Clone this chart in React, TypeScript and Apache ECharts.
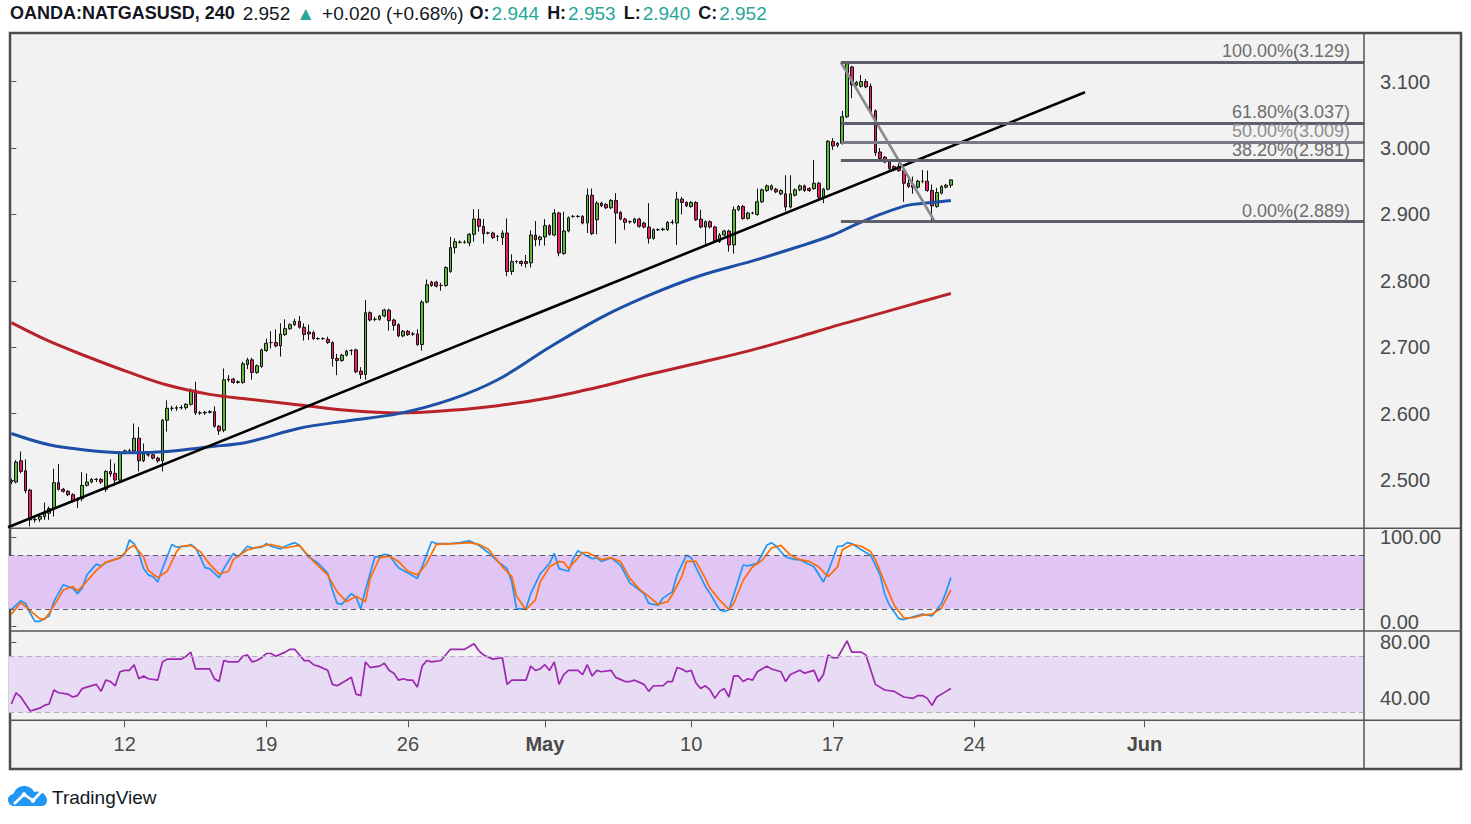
import React, { useEffect, useRef } from "react";
import * as echarts from "echarts";

const FONT = "'Liberation Sans', Arial, sans-serif";

// ---------- DATA ----------
const opens = [
  2.497,2.497,2.529,2.514,2.485,2.440,2.441,2.445,2.450,2.457,
  2.496,2.486,2.483,2.478,2.469,2.472,2.492,2.497,2.501,2.501,
  2.486,2.513,2.510,2.500,2.541,2.544,2.544,2.563,2.529,2.538,
  2.538,2.533,2.529,2.590,2.608,2.608,2.609,2.609,2.614,2.635,
  2.601,2.601,2.602,2.603,2.581,2.575,2.651,2.652,2.647,2.647,
  2.674,2.681,2.662,2.671,2.695,2.707,2.707,2.702,2.719,2.728,
  2.734,2.739,2.730,2.723,2.722,2.713,2.713,2.712,2.707,2.683,
  2.680,2.688,2.695,2.696,2.664,2.659,2.752,2.742,2.742,2.747,
  2.756,2.741,2.734,2.717,2.724,2.720,2.720,2.704,2.768,2.798,
  2.798,2.793,2.793,2.814,2.850,2.858,2.858,2.857,2.870,2.893,
  2.882,2.872,2.872,2.867,2.865,2.872,2.814,2.829,2.829,2.829,
  2.827,2.869,2.862,2.866,2.883,2.869,2.902,2.841,2.875,2.897,
  2.897,2.897,2.887,2.929,2.892,2.917,2.915,2.910,2.921,2.903,
  2.893,2.889,2.888,2.893,2.887,2.881,2.864,2.877,2.877,2.877,
  2.888,2.887,2.923,2.918,2.912,2.918,2.893,2.881,2.889,2.881,
  2.859,2.869,2.875,2.854,2.907,2.912,2.894,2.902,2.900,2.919,
  2.936,2.938,2.938,2.931,2.931,2.911,2.929,2.937,2.943,2.939,
  2.939,2.947,2.926,2.938,3.010,3.004,3.007,3.047,3.122,3.095,
  3.093,3.100,3.093,3.056,2.994,2.986,2.979,2.972,2.972,2.966,
  2.947,2.944,2.941,2.950,2.950,2.936,2.912,2.932,2.941,2.944,
];
const closes = [
  2.499,2.527,2.513,2.484,2.440,2.441,2.445,2.450,2.457,2.496,
  2.486,2.483,2.478,2.469,2.472,2.492,2.497,2.501,2.501,2.497,
  2.513,2.509,2.500,2.541,2.544,2.544,2.563,2.529,2.539,2.538,
  2.533,2.529,2.590,2.608,2.608,2.609,2.609,2.614,2.635,2.601,
  2.601,2.602,2.603,2.581,2.574,2.651,2.652,2.647,2.648,2.675,
  2.681,2.662,2.672,2.696,2.706,2.707,2.702,2.720,2.728,2.734,
  2.739,2.730,2.719,2.720,2.713,2.713,2.713,2.707,2.683,2.680,
  2.688,2.694,2.695,2.663,2.659,2.752,2.741,2.742,2.747,2.756,
  2.740,2.733,2.717,2.724,2.719,2.720,2.704,2.768,2.794,2.793,
  2.792,2.793,2.820,2.850,2.859,2.858,2.858,2.870,2.893,2.882,
  2.871,2.872,2.865,2.867,2.872,2.814,2.829,2.829,2.826,2.826,
  2.869,2.862,2.866,2.883,2.870,2.902,2.842,2.875,2.895,2.897,
  2.897,2.887,2.929,2.871,2.917,2.913,2.910,2.921,2.902,2.893,
  2.888,2.889,2.893,2.882,2.881,2.864,2.877,2.877,2.878,2.888,
  2.888,2.923,2.918,2.913,2.918,2.892,2.881,2.889,2.881,2.859,
  2.869,2.875,2.854,2.907,2.912,2.894,2.902,2.902,2.919,2.937,
  2.943,2.943,2.934,2.936,2.911,2.931,2.937,2.943,2.936,2.936,
  2.947,2.926,2.938,3.010,3.003,3.007,3.047,3.127,3.095,3.099,
  3.100,3.092,3.055,2.993,2.984,2.979,2.969,2.967,2.966,2.947,
  2.942,2.941,2.950,2.950,2.936,2.913,2.933,2.942,2.944,2.952,
];
const lows = [
  2.494,2.495,2.510,2.480,2.430,2.436,2.437,2.440,2.440,2.445,
  2.484,2.481,2.476,2.466,2.458,2.468,2.490,2.495,2.497,2.494,
  2.482,2.505,2.492,2.497,2.539,2.540,2.542,2.513,2.527,2.535,
  2.531,2.526,2.513,2.573,2.604,2.604,2.606,2.606,2.612,2.598,
  2.598,2.598,2.600,2.579,2.568,2.572,2.648,2.645,2.645,2.645,
  2.667,2.651,2.660,2.669,2.693,2.698,2.700,2.686,2.717,2.726,
  2.732,2.728,2.710,2.711,2.711,2.711,2.711,2.705,2.671,2.658,
  2.678,2.686,2.688,2.661,2.652,2.651,2.739,2.739,2.740,2.745,
  2.725,2.725,2.715,2.715,2.717,2.717,2.702,2.695,2.766,2.791,
  2.790,2.785,2.791,2.812,2.841,2.856,2.856,2.852,2.859,2.874,
  2.856,2.870,2.863,2.860,2.854,2.807,2.809,2.826,2.822,2.820,
  2.820,2.852,2.853,2.853,2.868,2.867,2.837,2.839,2.873,2.895,
  2.895,2.885,2.872,2.869,2.870,2.911,2.908,2.908,2.856,2.891,
  2.877,2.886,2.886,2.880,2.879,2.856,2.862,2.875,2.875,2.875,
  2.885,2.854,2.900,2.911,2.910,2.890,2.879,2.854,2.879,2.857,
  2.857,2.867,2.844,2.841,2.905,2.892,2.892,2.900,2.898,2.917,
  2.934,2.936,2.932,2.929,2.905,2.909,2.927,2.935,2.934,2.934,
  2.937,2.921,2.917,2.936,2.997,3.001,3.005,3.045,3.075,3.093,
  3.091,3.090,3.053,2.988,2.982,2.977,2.967,2.965,2.964,2.919,
  2.940,2.931,2.939,2.947,2.934,2.889,2.910,2.930,2.939,2.940,
];
const highs = [
  2.502,2.530,2.543,2.531,2.487,2.446,2.448,2.466,2.460,2.517,
  2.524,2.488,2.485,2.480,2.474,2.512,2.510,2.503,2.503,2.503,
  2.515,2.531,2.525,2.543,2.546,2.547,2.585,2.580,2.555,2.541,
  2.540,2.535,2.592,2.620,2.612,2.612,2.613,2.616,2.638,2.648,
  2.604,2.604,2.605,2.611,2.583,2.668,2.658,2.654,2.650,2.678,
  2.684,2.684,2.674,2.698,2.713,2.724,2.727,2.736,2.742,2.736,
  2.743,2.747,2.736,2.734,2.725,2.715,2.715,2.716,2.709,2.690,
  2.690,2.696,2.697,2.698,2.670,2.771,2.754,2.746,2.749,2.758,
  2.758,2.743,2.736,2.726,2.726,2.723,2.727,2.771,2.802,2.800,
  2.800,2.797,2.822,2.866,2.864,2.861,2.861,2.872,2.908,2.908,
  2.893,2.874,2.874,2.869,2.876,2.894,2.840,2.831,2.831,2.839,
  2.876,2.890,2.868,2.893,2.885,2.908,2.904,2.904,2.897,2.899,
  2.899,2.899,2.939,2.939,2.920,2.919,2.917,2.923,2.932,2.905,
  2.895,2.891,2.895,2.895,2.889,2.917,2.879,2.879,2.880,2.890,
  2.892,2.934,2.926,2.920,2.920,2.920,2.907,2.891,2.891,2.883,
  2.872,2.877,2.877,2.912,2.914,2.914,2.904,2.904,2.939,2.939,
  2.945,2.945,2.940,2.938,2.959,2.959,2.939,2.945,2.945,2.941,
  2.982,2.949,2.940,3.012,3.015,3.009,3.056,3.129,3.124,3.101,
  3.110,3.104,3.097,3.058,3.000,2.988,2.982,2.974,2.977,2.968,
  2.957,2.957,2.952,2.967,2.966,2.945,2.940,2.944,2.946,2.953,
];

// moving averages: [bar index, value]
const maBlue: [number, number][] = [
  [0,2.570],[8,2.553],[16,2.545],[25,2.541],[33,2.543],[42,2.550],[50,2.557],[61,2.578],
  [71,2.589],[82,2.600],[93,2.621],[103,2.651],[114,2.700],[125,2.745],[135,2.778],[146,2.808],
  [157,2.830],[167,2.852],[174,2.869],[178,2.882],[184,2.900],[190,2.914],[195,2.918],[199,2.921],
];
const maRed: [number, number][] = [
  [0,2.737],[8,2.709],[16,2.686],[25,2.662],[33,2.643],[42,2.629],[50,2.622],[61,2.613],
  [71,2.605],[82,2.601],[93,2.605],[103,2.612],[114,2.624],[125,2.641],[135,2.659],[146,2.677],
  [157,2.696],[167,2.716],[174,2.731],[178,2.739],[184,2.751],[190,2.763],[195,2.773],[199,2.781],
];

const trendLine: [number, number][] = [[-0.7, 2.429], [227.4, 3.084]];
const fibStart = 175.7;
const fibLevels = [3.129, 3.037, 3.009, 2.981, 2.889];
const fibPct = ["100.00%", "61.80%", "50.00%", "38.20%", "0.00%"];
const fibDiagonal: [number, number][] = [[175.7, 3.129], [195.6, 2.889]];

const stochK: [number, number][] = [
  [0,19],[2,29],[3,26],[4,15],[5,6],[6,6],[8,12],[9,28],[11,47],[13,43],[14,37],[15,43],[16,58],[18,70],[19,68],[20,72],
  [23,77],[24,81],[25,97],[26,93],[27,82],[28,65],[29,58],[30,56],[31,50],[32,65],[34,92],[35,89],[37,90],[38,92],[39,88],
  [40,78],[41,66],[42,65],[44,55],[45,65],[47,82],[48,78],[50,90],[51,88],[53,89],[54,93],[55,90],[57,87],[58,90],[60,94],
  [61,91],[63,78],[65,71],[67,60],[68,41],[69,26],[70,25],[72,37],[73,33],[74,20],[75,41],[77,78],[78,78],[79,81],[80,80],
  [82,66],[84,60],[86,54],[87,67],[89,95],[90,93],[93,93],[95,94],[97,96],[99,91],[101,83],[103,73],[105,65],[106,50],
  [107,20],[109,20],[110,37],[112,59],[114,71],[115,82],[116,65],[118,62],[119,76],[120,85],[121,82],[123,76],[124,77],
  [125,73],[127,77],[129,69],[131,49],[134,37],[135,26],[137,24],[138,32],[140,39],[141,58],[143,80],[144,77],[147,45],
  [148,37],[150,19],[151,17],[152,19],[155,69],[156,68],[158,71],[160,91],[161,94],[162,90],[164,78],[166,75],[167,75],
  [170,67],[172,50],[173,62],[175,90],[176,90],[177,94],[178,93],[180,86],[182,80],[184,58],[185,36],[186,24],[188,9],
  [189,8],[191,11],[193,14],[195,12],[197,26],[198,39],[199,55],
];
const stochD: [number, number][] = [
  [0,14],[2,27],[4,18],[6,9],[7,8],[8,15],[10,32],[11,41],[13,45],[14,40],[15,45],[18,63],[20,72],[23,77],[25,88],[26,91],
  [28,78],[29,63],[31,55],[33,62],[35,84],[36,90],[38,91],[40,84],[42,70],[44,59],[46,62],[47,75],[50,86],[53,90],[55,92],
  [58,88],[61,91],[62,85],[64,73],[67,58],[69,39],[71,28],[73,34],[75,28],[76,54],[78,77],[80,79],[82,73],[84,62],[86,58],
  [88,71],[90,92],[94,93],[97,94],[99,92],[101,87],[104,67],[106,56],[107,34],[109,19],[111,30],[112,50],[114,67],[116,73],
  [117,72],[118,65],[120,77],[121,83],[122,83],[124,78],[125,75],[127,77],[129,73],[131,54],[133,42],[135,34],[137,25],
  [139,28],[140,36],[142,56],[143,73],[145,73],[147,54],[148,43],[150,30],[152,19],[153,26],[155,52],[157,67],[159,74],
  [161,88],[163,91],[165,80],[167,75],[169,73],[171,67],[173,56],[175,67],[176,86],[178,92],[180,90],[182,84],[183,75],
  [185,49],[187,24],[189,10],[191,10],[193,13],[195,14],[197,21],[199,41],
];
const rsi: [number, number][] = [
  [0,36],[1,44],[2,41],[4,31],[5,32],[6,33],[7,35],[8,36],[9,46],[10,44],[12,43],[13,41],[14,42],[15,47],[16,48],[18,50],
  [19,45],[20,53],[21,52],[22,49],[23,59],[24,60],[25,60],[26,64],[27,54],[28,56],[29,54],[31,53],[32,66],[33,68],[36,68],
  [37,70],[38,73],[39,61],[40,61],[42,61],[43,54],[44,52],[45,67],[46,66],[48,66],[49,70],[50,71],[51,66],[52,67],[53,69],
  [54,72],[55,72],[56,70],[58,73],[59,75],[60,75],[62,67],[63,67],[64,64],[65,63],[67,60],[68,50],[69,49],[71,53],[72,55],
  [73,43],[74,42],[75,66],[76,62],[78,63],[79,65],[80,60],[81,58],[82,53],[83,54],[84,53],[85,53],[86,48],[87,63],[88,67],
  [89,66],[91,67],[93,75],[94,75],[96,75],[98,79],[99,74],[100,71],[102,68],[104,69],[105,50],[106,53],[107,53],[109,53],
  [110,63],[111,60],[112,61],[113,64],[114,60],[115,66],[116,50],[117,57],[118,60],[120,60],[121,57],[122,64],[123,56],
  [124,60],[125,59],[127,60],[128,55],[130,52],[131,52],[132,53],[134,50],[135,45],[136,49],[138,49],[139,52],[140,52],
  [141,62],[142,61],[143,59],[144,60],[145,51],[146,47],[147,49],[148,46],[149,40],[150,45],[151,47],[152,41],[153,56],
  [154,56],[155,52],[156,54],[157,53],[158,59],[160,63],[161,61],[163,59],[164,52],[165,57],[167,60],[168,58],[170,60],
  [171,52],[172,57],[173,71],[174,69],[175,69],[177,81],[178,73],[180,73],[181,71],[183,50],[185,46],[187,45],[189,41],
  [191,40],[192,42],[193,42],[194,40],[195,35],[196,41],[198,45],[199,47],
];

const priceTicks = [2.5, 2.6, 2.7, 2.8, 2.9, 3.0, 3.1];
const stochTicks = [0, 100];
const rsiTicks = [40, 80];
const stochBand = [20, 80];
const rsiBand = [30, 70];
const dateLabels = ["12", "19", "26", "May", "10", "17", "24", "Jun"];
const dateIndex = [24, 54, 84, 113, 144, 174, 204, 240];
const monthLabels = ["May", "Jun"];

const headerSymbol = "OANDA:NATGASUSD, 240";
const headerLast = "2.952";
const headerChange = "+0.020 (+0.68%)";
const headerOHLC = [["O:", "2.944"], ["H:", "2.953"], ["L:", "2.940"], ["C:", "2.952"]];

// ---------- LAYOUT ----------
const N_CAT = 287;
const X_MIN = -0.5;
const X_MAX = N_CAT - 0.5;
const GL = 9;
const GW = 1355;
const PRICE_MIN = 2.4273;
const PRICE_MAX = 3.1732;

const cats = Array.from({ length: N_CAT }, (_, i) => String(i));
const dateCats = Array.from({ length: N_CAT }, (_, i) => {
  const k = dateIndex.indexOf(i);
  return k >= 0 ? dateLabels[k] : "";
});

function buildOption(): any {
  const candles = opens.map((o, i) => [o, closes[i], lows[i], highs[i]]);
  const fibText = fibLevels.map((l, k) => `${fibPct[k]}(${l.toFixed(3)})`);
  const fibLineColors = ["#5d606b", "#5d606b", "#787b86", "#5d606b", "#5d606b"];
  const fibLabelColors = ["#6e6e6e", "#6e6e6e", "#8e8e8e", "#6e6e6e", "#6e6e6e"];

  const axisLabelBase = { fontFamily: FONT, fontSize: 20, color: "#4a4a4a" };

  const header =
    `{b|${headerSymbol}} {n|${headerLast}}{t|▲}{n|${headerChange}}` +
    headerOHLC.map(([k, v]) => `{k|${k}}{v|${v}}`).join("");

  return {
    animation: false,
    backgroundColor: "#ffffff",
    grid: [
      { left: GL, width: GW, top: 33, height: 495.3 },
      { left: GL, width: GW, top: 528.3, height: 102.7 },
      { left: GL, width: GW, top: 631, height: 89.3 },
    ],
    xAxis: [
      { type: "category", gridIndex: 0, data: cats, show: false, boundaryGap: true, position: "bottom" },
      { type: "value", gridIndex: 0, min: X_MIN, max: X_MAX, show: false, position: "top" },
      { type: "value", gridIndex: 1, min: X_MIN, max: X_MAX, show: false },
      { type: "value", gridIndex: 2, min: X_MIN, max: X_MAX, show: false, position: "top" },
      {
        type: "category",
        gridIndex: 2,
        position: "bottom",
        offset: 0,
        data: dateCats,
        boundaryGap: true,
        axisLine: { show: false },
        splitLine: { show: false },
        axisTick: {
          show: true,
          alignWithLabel: true,
          interval: (_i: number, v: string) => v !== "",
          length: 7,
          lineStyle: { color: "#555", width: 1 },
        },
        axisLabel: {
          ...axisLabelBase,
          interval: 0,
          margin: 14,
          formatter: (v: string) => (monthLabels.includes(v) ? `{m|${v}}` : v),
          rich: { m: { ...axisLabelBase, fontWeight: "bold" } },
        },
      },
    ],
    yAxis: [
      {
        type: "value",
        gridIndex: 0,
        position: "right",
        min: PRICE_MIN,
        max: PRICE_MAX,
        splitLine: { show: false },
        axisLine: { show: false },
        axisTick: { show: true, length: 5, customValues: priceTicks, lineStyle: { color: "#555" } },
        axisLabel: { ...axisLabelBase, margin: 16, customValues: priceTicks, formatter: (v: number) => v.toFixed(3) },
      },
      {
        type: "value",
        gridIndex: 1,
        position: "right",
        min: -4.81,
        max: 110.07,
        splitLine: { show: false },
        axisLine: { show: false },
        axisTick: { show: true, length: 5, customValues: stochTicks, lineStyle: { color: "#555" } },
        axisLabel: {
          ...axisLabelBase,
          margin: 16,
          customValues: stochTicks,
          formatter: (v: number) => (v === 0 ? `{lo|${v.toFixed(2)}}` : v.toFixed(2)),
          rich: { lo: { ...axisLabelBase, padding: [0, 0, 10, 0] } },
        },
      },
      {
        type: "value",
        gridIndex: 2,
        position: "right",
        min: 24.36,
        max: 88.07,
        splitLine: { show: false },
        axisLine: { show: false },
        axisTick: { show: true, length: 5, customValues: rsiTicks, lineStyle: { color: "#555" } },
        axisLabel: { ...axisLabelBase, margin: 16, customValues: rsiTicks, formatter: (v: number) => v.toFixed(2) },
      },
    ],
    graphic: [
      {
        type: "rect",
        z: -100,
        silent: true,
        shape: { x: 10, y: 33, width: 1451, height: 736 },
        style: { fill: "#f2f2f2", stroke: "#4d4d4d", lineWidth: 2.5 },
      },
      ...[528.3, 631, 720.3].map((y) => ({
        type: "line",
        z: 100,
        silent: true,
        shape: { x1: 10, y1: y, x2: 1461, y2: y },
        style: { stroke: "#555", lineWidth: 1.5 },
      })),
      {
        type: "line",
        z: 100,
        silent: true,
        shape: { x1: 1364, y1: 33, x2: 1364, y2: 769 },
        style: { stroke: "#555", lineWidth: 1.5 },
      },
      {
        type: "text",
        z: 100,
        x: 10,
        y: 13,
        style: {
          text: header,
          fontFamily: FONT,
          fontSize: 18,
          fill: "#131722",
          verticalAlign: "middle",
          rich: {
            b: { fontFamily: FONT, fontSize: 18, fontWeight: "bold", fill: "#131722", padding: [0, 3, 0, 0] },
            k: { fontFamily: FONT, fontSize: 18, fontWeight: "bold", fill: "#131722", padding: [0, 2, 0, 0] },
            n: { fontFamily: FONT, fontSize: 19, fill: "#131722", padding: [0, 6, 0, 0] },
            t: { fontFamily: FONT, fontSize: 19, fill: "#26a69a", padding: [0, 7, 0, 0] },
            v: { fontFamily: FONT, fontSize: 19, fill: "#26a69a", padding: [0, 8, 0, 0] },
          },
        },
      },
      {
        type: "tvcloud",
        z: 100,
        x: 8,
        y: 785,
        scaleX: 1,
        scaleY: 1,
        style: { fill: "#2196f3" },
      },
      {
        type: "polyline",
        z: 101,
        shape: { points: [[14, 804], [24, 794.5], [33, 800.5], [42, 791]] },
        style: { stroke: "#ffffff", lineWidth: 2.6, fill: "none" },
      },
      { type: "circle", z: 102, shape: { cx: 24, cy: 794.5, r: 2.3 }, style: { fill: "#ffffff" } },
      { type: "circle", z: 102, shape: { cx: 33, cy: 800.5, r: 2.3 }, style: { fill: "#ffffff" } },
      {
        type: "text",
        z: 100,
        x: 52,
        y: 797,
        style: { text: "TradingView", fontFamily: FONT, fontSize: 19, fill: "#131722", verticalAlign: "middle" },
      },
    ],
    series: [
      {
        type: "candlestick",
        xAxisIndex: 0,
        yAxisIndex: 0,
        data: candles,
        barWidth: 3.2,
        itemStyle: {
          color: "#5cb936",
          color0: "#e91e63",
          borderColor: "#111111",
          borderColor0: "#111111",
          borderWidth: 1,
        },
      },
      {
        type: "line",
        xAxisIndex: 1,
        yAxisIndex: 0,
        data: maRed,
        smooth: 0.35,
        showSymbol: false,
        lineStyle: { color: "#b8232a", width: 3 },
      },
      {
        type: "line",
        xAxisIndex: 1,
        yAxisIndex: 0,
        data: maBlue,
        smooth: 0.35,
        showSymbol: false,
        lineStyle: { color: "#1e4fa6", width: 3 },
      },
      {
        type: "line",
        xAxisIndex: 1,
        yAxisIndex: 0,
        data: trendLine,
        showSymbol: false,
        lineStyle: { color: "#000000", width: 2.6 },
      },
      {
        type: "line",
        xAxisIndex: 1,
        yAxisIndex: 0,
        data: fibDiagonal,
        showSymbol: false,
        lineStyle: { color: "#878a93", width: 2.6 },
        markLine: {
          silent: true,
          symbol: ["none", "none"],
          animation: false,
          data: fibLevels.map((lvl, k) => [
            {
              coord: [fibStart, lvl],
              lineStyle: { color: fibLineColors[k], width: 3, type: "solid" },
              label: { color: fibLabelColors[k] },
            },
            { coord: [X_MAX, lvl] },
          ]),
          label: {
            show: true,
            position: "insideEndTop",
            distance: [14, 2],
            fontFamily: FONT,
            fontSize: 18,
            color: "#6e6e6e",
            formatter: (p: any) => fibText[p.dataIndex],
          },
        },
      },
      // stochastic band
      {
        type: "line",
        xAxisIndex: 2,
        yAxisIndex: 1,
        data: [],
        z: 1,
        markArea: {
          silent: true,
          itemStyle: { color: "#e1c5f5" },
          data: [[{ coord: [X_MIN, stochBand[0]] }, { coord: [X_MAX, stochBand[1]] }]],
        },
        markLine: {
          silent: true,
          symbol: ["none", "none"],
          label: { show: false },
          lineStyle: { color: "#5a5a66", width: 1.2, type: [5, 4] },
          data: [{ yAxis: stochBand[1] }, { yAxis: stochBand[0] }],
        },
      },
      {
        type: "line",
        xAxisIndex: 2,
        yAxisIndex: 1,
        data: stochK,
        showSymbol: false,
        lineStyle: { color: "#2196f3", width: 1.7 },
      },
      {
        type: "line",
        xAxisIndex: 2,
        yAxisIndex: 1,
        data: stochD,
        showSymbol: false,
        lineStyle: { color: "#ff6d00", width: 1.7 },
      },
      // RSI band
      {
        type: "line",
        xAxisIndex: 3,
        yAxisIndex: 2,
        data: [],
        z: 1,
        markArea: {
          silent: true,
          itemStyle: { color: "#e8dbf4" },
          data: [[{ coord: [X_MIN, rsiBand[0]] }, { coord: [X_MAX, rsiBand[1]] }]],
        },
        markLine: {
          silent: true,
          symbol: ["none", "none"],
          label: { show: false },
          lineStyle: { color: "#b9aac3", width: 1.2, type: [5, 4] },
          data: [{ yAxis: rsiBand[1] }, { yAxis: rsiBand[0] }],
        },
      },
      {
        type: "line",
        xAxisIndex: 3,
        yAxisIndex: 2,
        data: rsi,
        showSymbol: false,
        lineStyle: { color: "#9c27b0", width: 1.7 },
      },
    ],
  };
}

const cloudPath =
  "M6 21 C2.6 21 0 18.3 0 15 C0 11.9 2.4 9.4 5.4 9.1 C6.8 4.4 11.2 1 16.2 1 C20.5 1 24.3 3.4 26.2 7.1 " +
  "C27.1 6.8 28.1 6.6 29.1 6.6 C34.6 6.6 39 10.6 39 15.4 C39 18.5 36.6 21 33.5 21 Z";

let registered = false;
function ensureShapes() {
  if (registered) return;
  registered = true;
  echarts.graphic.registerShape("tvcloud", echarts.graphic.extendPath(cloudPath, {}) as any);
}

export default function App() {
  const ref = useRef<HTMLDivElement>(null);
  useEffect(() => {
    ensureShapes();
    const chart = echarts.init(ref.current!, null, { renderer: "svg" });
    chart.setOption(buildOption());
    return () => chart.dispose();
  }, []);
  return (
    <div
      ref={ref}
      style={{ position: "absolute", left: 0, top: 0, width: 1471, height: 824, background: "#ffffff" }}
    />
  );
}
